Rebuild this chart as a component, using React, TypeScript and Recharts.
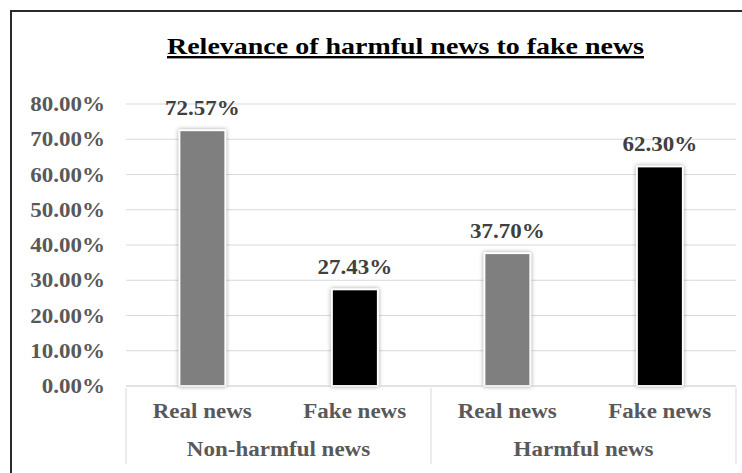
import React from 'react';
import { BarChart, Bar, XAxis, YAxis, CartesianGrid, Cell, LabelList } from 'recharts';

const title = 'Relevance of harmful news to fake news';
const categories = ['Real news', 'Fake news', 'Real news', 'Fake news'];
const groups = ['Non-harmful news', 'Harmful news'];
const values = [72.57, 27.43, 37.7, 62.3];
const barColors = ['#7f7f7f', '#000000', '#7f7f7f', '#000000'];
const yTicks = [0, 10, 20, 30, 40, 50, 60, 70, 80];

const data = categories.map((c, i) => ({ cat: c, value: values[i], idx: i }));
const perGroup = categories.length / groups.length;
const groupCenters = groups.map((_, i) => i * perGroup + perGroup / 2);
const groupEdges = [0, ...groups.map((_, i) => (i + 1) * perGroup)];

const FONT = '"Liberation Serif", "Times New Roman", serif';
const SX = 1.15;
const fmt = (v: number) => `${v.toFixed(2)}%`;

const YTick = (props: any) => {
  const { x, y, payload } = props;
  return (
    <g transform={`translate(${x},${y}) scale(${SX},1)`}>
      <text textAnchor="end" dy="0.35em" fill="#595959" fontFamily={FONT} fontWeight={700} fontSize={20}>
        {fmt(payload.value)}
      </text>
    </g>
  );
};

const CatTick = (props: any) => {
  const { x, y, payload } = props;
  return (
    <g transform={`translate(${x},${y}) scale(${SX},1)`}>
      <text textAnchor="middle" fill="#595959" fontFamily={FONT} fontWeight={700} fontSize={20}>
        {payload.value}
      </text>
    </g>
  );
};

const GroupTick = (props: any) => {
  const { x, y, index } = props;
  return (
    <g transform={`translate(${x},${y}) scale(${SX},1)`}>
      <text textAnchor="middle" fill="#595959" fontFamily={FONT} fontWeight={700} fontSize={20}>
        {groups[index]}
      </text>
    </g>
  );
};

const EmptyTick = () => <g />;

const BarLabel = (props: any) => {
  const { x, y, width, value } = props;
  const cx = x + width / 2;
  return (
    <g transform={`translate(${cx},${y - 15}) scale(${SX},1)`}>
      <text textAnchor="middle" fill="#404040" fontFamily={FONT} fontWeight={700} fontSize={20}>
        {fmt(value)}
      </text>
    </g>
  );
};

const BarShape = (props: any) => {
  const { x, y, width, height, fill } = props;
  return (
    <rect
      x={x}
      y={y}
      width={width}
      height={height}
      fill={fill}
      stroke="#ffffff"
      strokeWidth={2}
      style={{ filter: 'drop-shadow(0px 0px 2px rgba(0,0,0,0.35))' }}
    />
  );
};

export default function App() {
  return (
    <div style={{ position: 'fixed', left: 0, top: 0, width: 742, height: 473, overflow: 'hidden', background: '#fff' }}>
      <div
        style={{
          position: 'absolute',
          left: 10,
          top: 10,
          width: 800,
          height: 520,
          border: '2px solid #2a2a2a',
          boxSizing: 'border-box',
        }}
      />
      <div style={{ position: 'absolute', left: 0, top: 0 }}>
        <BarChart
          width={742}
          height={473}
          data={data}
          margin={{ top: 104, right: 6, left: 0, bottom: 84 }}
          barCategoryGap="35%"
        >
          <CartesianGrid horizontal vertical={false} stroke="#d9d9d9" strokeWidth={1} />
          <XAxis
            xAxisId="cat"
            dataKey="cat"
            height={1}
            axisLine={{ stroke: '#d9d9d9' }}
            tickLine={false}
            tickSize={0}
            tickMargin={32}
            tick={<CatTick />}
            interval={0}
          />
          <XAxis
            xAxisId="sep"
            dataKey="idx"
            type="number"
            domain={[0, categories.length]}
            allowDataOverflow
            ticks={groupEdges}
            height={1}
            axisLine={false}
            tickLine={{ stroke: '#d9d9d9' }}
            tickSize={76}
            tick={<EmptyTick />}
            interval={0}
          />
          <XAxis
            xAxisId="grp"
            dataKey="idx"
            type="number"
            domain={[0, categories.length]}
            allowDataOverflow
            ticks={groupCenters}
            height={1}
            axisLine={false}
            tickLine={false}
            tickSize={0}
            tickMargin={69}
            tick={<GroupTick />}
            interval={0}
          />
          <YAxis
            domain={[0, 80]}
            ticks={yTicks}
            width={126}
            axisLine={false}
            tickLine={false}
            tickSize={0}
            tickMargin={21}
            tick={<YTick />}
            interval={0}
          />
          <Bar dataKey="value" xAxisId="cat" isAnimationActive={false} shape={<BarShape />}>
            {data.map((d, i) => (
              <Cell key={i} fill={barColors[i]} />
            ))}
            <LabelList dataKey="value" content={<BarLabel />} />
          </Bar>
        </BarChart>
      </div>
      <svg width={742} height={473} style={{ position: 'absolute', left: 0, top: 0, pointerEvents: 'none' }}>
        <text
          x={405.5}
          y={54}
          textAnchor="middle"
          textLength={477}
          lengthAdjust="spacingAndGlyphs"
          fill="#000"
          fontFamily={FONT}
          fontWeight={700}
          fontSize={24}
          style={{ textDecoration: 'underline' }}
        >
          {title}
        </text>
      </svg>
    </div>
  );
}
